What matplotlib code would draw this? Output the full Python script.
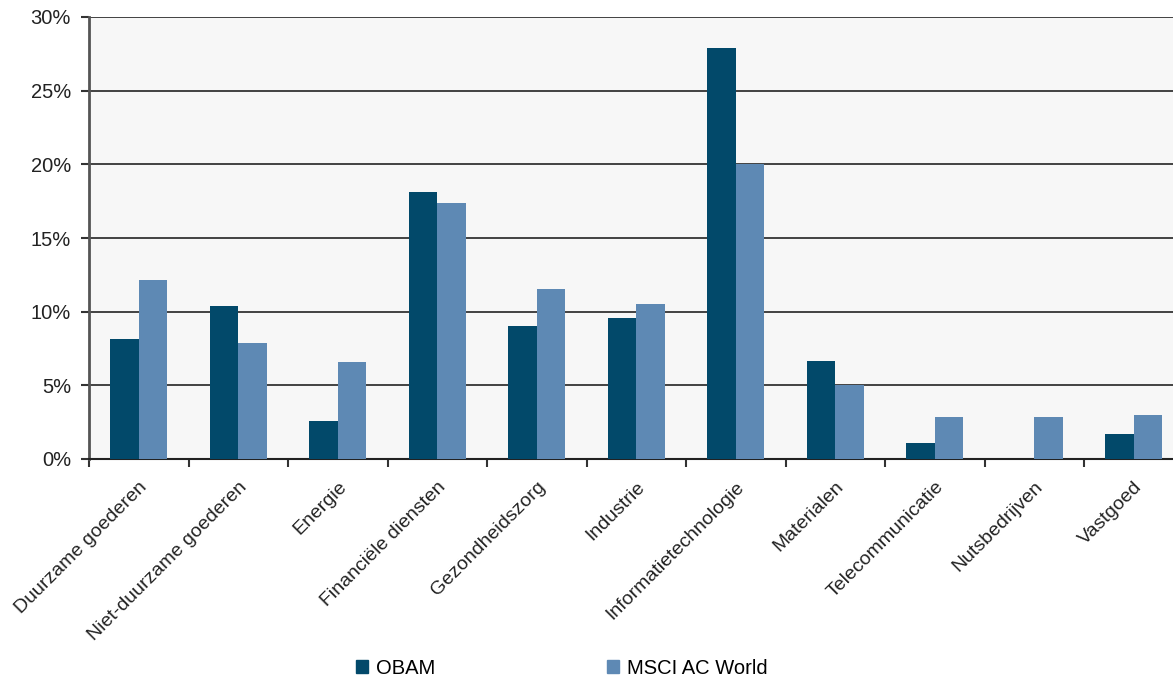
import matplotlib.pyplot as plt
from matplotlib.patches import Patch
import numpy as np

plt.rcParams['font.family'] = ['Liberation Sans', 'DejaVu Sans']

categories = ["Duurzame goederen", "Niet-duurzame goederen", "Energie",
              "Financiële diensten", "Gezondheidszorg", "Industrie",
              "Informatietechnologie", "Materialen", "Telecommunicatie",
              "Nutsbedrijven", "Vastgoed"]
obam = [8.15, 10.4, 2.6, 18.1, 9.0, 9.6, 27.9, 6.65, 1.1, 0.0, 1.7]
msci = [12.15, 7.9, 6.6, 17.4, 11.55, 10.5, 20.0, 5.0, 2.85, 2.85, 3.0]
series_names = ["OBAM", "MSCI AC World"]
colors = ["#02496a", "#5e89b4"]

fig = plt.figure(figsize=(11.73, 6.83), dpi=100)
ax = fig.add_axes([89 / 1173, 1 - 459 / 683, 1094.5 / 1173, 442 / 683])
ax.set_facecolor("#f7f7f7")

x = np.arange(len(categories))
w = 0.287
ax.bar(x - w / 2, obam, w, color=colors[0], zorder=3)
ax.bar(x + w / 2, msci, w, color=colors[1], zorder=3)

ax.set_xlim(-0.5, len(categories) - 0.5)
ax.set_ylim(0, 30)
ax.set_yticks(range(0, 31, 5))
ax.set_yticklabels([f"{v}%" for v in range(0, 31, 5)])
ax.yaxis.grid(True, color="#111111", lw=1.1, zorder=1)
ax.set_axisbelow(True)

ax.set_xticks(np.arange(len(categories) + 1) - 0.5)
ax.set_xticklabels([])
ax.set_xticks(x, minor=True)
ax.set_xticklabels(categories, minor=True, rotation=45, ha="right",
                   rotation_mode="anchor", fontsize=14, color="#222222")
ax.tick_params(axis="x", which="minor", length=0, pad=14)
ax.tick_params(axis="x", which="major", length=6, width=1.5, color="#333333")
ax.tick_params(axis="y", length=6, width=1.5, color="#333333",
               labelsize=14.5, labelcolor="#222222", pad=7)

for s in ["top", "right"]:
    ax.spines[s].set_visible(False)
ax.spines["left"].set_color("#555555")
ax.spines["left"].set_linewidth(2)
ax.spines["bottom"].set_color("#222222")
ax.spines["bottom"].set_linewidth(1.5)

handles = [Patch(color=c) for c in colors]
fig.legend(handles, series_names, loc="center", ncol=2,
           bbox_to_anchor=(562 / 1173, 1 - 668 / 683), frameon=False,
           fontsize=14.5, handlelength=0.6, handleheight=0.6,
           handletextpad=0.4, columnspacing=8.5)

fig.savefig("out.png", dpi=100)
